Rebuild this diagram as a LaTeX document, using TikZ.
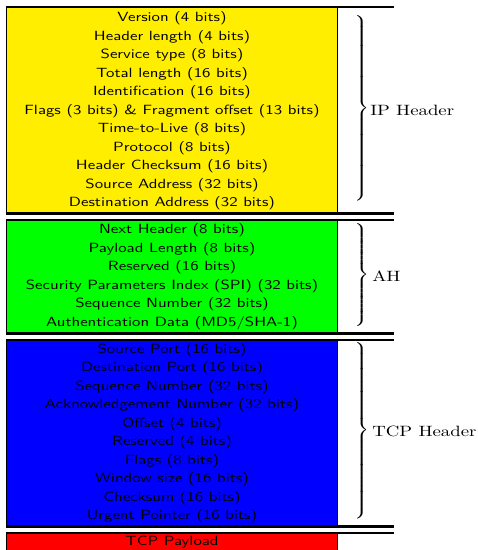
\documentclass[tikz,border=0pt]{standalone}
\usepackage{fontspec}
\usepackage{graphicx}
\newfontfamily\boxfont{lmsans10-regular.otf}[FakeStretch=1.26]
\newfontfamily\lblfont{lmroman10-regular.otf}[FakeStretch=1.26]
\definecolor{ipcol}{RGB}{255,238,0}
\definecolor{ahcol}{RGB}{0,255,0}
\definecolor{tcpcol}{RGB}{0,0,255}
\definecolor{paycol}{RGB}{255,0,0}
\tikzset{
  topln/.style={line width=1.5pt},
  botln/.style={line width=2.25pt},
  sidln/.style={line width=1.05pt},
  rows/.style={inner sep=0pt, align=center, font=\boxfont\fontsize{10}{13.875}\selectfont},
  brc/.style={inner sep=0pt, anchor=west},
  lbl/.style={inner sep=0pt, anchor=west, font=\lblfont\fontsize{11.2}{13}\selectfont}
}
% #1 = natural half height, #2 = final total height
\newcommand{\bracefor}[2]{\resizebox*{1.25\width}{#2}{$\nulldelimiterspace=0pt\left.\vrule height #1 depth #1 width 0pt\right\}$}}
\begin{document}
\begin{tikzpicture}[x=0.75pt,y=-0.75pt]
\useasboundingbox (0,0) rectangle (478,550);
% IP header
\fill[ipcol] (6,7) rectangle (338,213.5);
\draw[sidln] (6.7,7) -- (6.7,213.5);
\draw[sidln] (337.3,7) -- (337.3,213.5);
\draw[topln] (6,7) -- (394,7);
\draw[botln] (6,213.5) -- (394,213.5);
\node[rows] (ip) at (172,110.9) {Version (4 bits)\\Header length (4 bits)\\Service type (8 bits)\\Total length (16 bits)\\Identification (16 bits)\\Flags (3 bits) \& Fragment offset (13 bits)\\Time-to-Live (8 bits)\\Protocol (8 bits)\\Header Checksum (16 bits)\\Source Address (32 bits)\\Destination Address (32 bits)};
\node[brc] (ipbrace) at (354,109.5) {\bracefor{72pt}{141.75pt}};
\node[lbl] (iplabel) at (370,110) {IP Header};
% AH
\fill[ahcol] (6,220) rectangle (338,333.5);
\draw[sidln] (6.7,220) -- (6.7,333.5);
\draw[sidln] (337.3,220) -- (337.3,333.5);
\draw[topln] (6,220) -- (394,220);
\draw[botln] (6,333.5) -- (394,333.5);
\node[rows] (ah) at (172,276.9) {Next Header (8 bits)\\Payload Length (8 bits)\\Reserved (16 bits)\\Security Parameters Index (SPI) (32 bits)\\Sequence Number (32 bits)\\Authentication Data (MD5/SHA-1)};
\node[brc] (ahbrace) at (354,275.8) {\bracefor{41pt}{78.75pt}};
\node[lbl] (ahlabel) at (372,276) {AH};
% TCP header
\fill[tcpcol] (6,340) rectangle (338,526.5);
\draw[sidln] (6.7,340) -- (6.7,526.5);
\draw[sidln] (337.3,340) -- (337.3,526.5);
\draw[topln] (6,340) -- (394,340);
\draw[botln] (6,526.5) -- (394,526.5);
\node[rows] (tcp) at (172,433.4) {Source Port (16 bits)\\Destination Port (16 bits)\\Sequence Number (32 bits)\\Acknowledgement Number (32 bits)\\Offset (4 bits)\\Reserved (4 bits)\\Flags (8 bits)\\Window size (16 bits)\\Checksum (16 bits)\\Urgent Pointer (16 bits)};
\node[brc] (tcpbrace) at (354,432) {\bracefor{69pt}{135pt}};
\node[lbl] (tcplabel) at (372,431) {TCP Header};
% TCP payload
\fill[paycol] (6,533) rectangle (338,552);
\draw[sidln] (6.7,533) -- (6.7,552);
\draw[sidln] (337.3,533) -- (337.3,552);
\draw[topln] (6,533) -- (394,533);
\node[rows, anchor=base] (pay) at (172,545.3) {TCP Payload};
\end{tikzpicture}
\end{document}
